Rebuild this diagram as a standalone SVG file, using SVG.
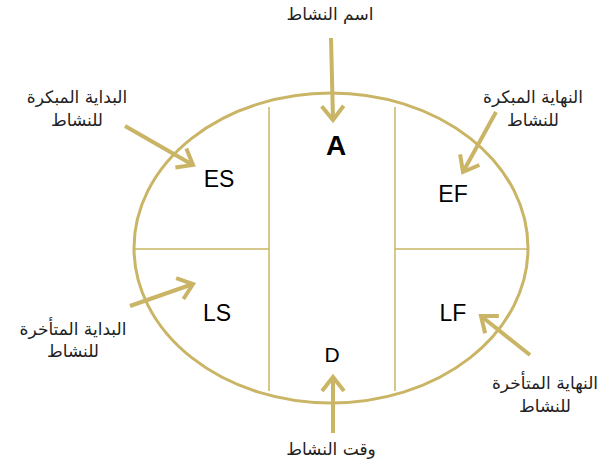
<svg xmlns="http://www.w3.org/2000/svg" width="616" height="468" viewBox="0 0 616 468">
<style>
.sh{fill:none;stroke:#c9b565;}
.ar{fill:none;stroke:#c9b565;stroke-width:4;marker-end:url(#h);}
.lt{font-family:"Liberation Sans",Arial,sans-serif;font-size:23px;fill:#000;text-anchor:middle;}
.big{font-size:28px;font-weight:bold;}
.ab{font-family:"DejaVu Sans","Noto Sans",sans-serif;font-size:17px;fill:#222;text-anchor:middle;direction:rtl;}
</style>
<defs>
<marker id="h" markerUnits="userSpaceOnUse" markerWidth="34" markerHeight="34" refX="16" refY="12" orient="auto" viewBox="0 0 34 24">
<path d="M2,1 L16,12 L2,23" fill="none" stroke="#c9b565" stroke-width="4"/>
</marker>
</defs>
<rect width="616" height="468" fill="#fff"/>
<g id="activity">
<ellipse class="sh" cx="331" cy="248" rx="197" ry="155" stroke-width="3"/>
<line class="sh" x1="269" y1="107" x2="269" y2="391" stroke-width="1.5"/>
<line class="sh" x1="395" y1="107" x2="395" y2="391" stroke-width="1.5"/>
<line class="sh" x1="134" y1="249" x2="269" y2="249" stroke-width="1.5"/>
<line class="sh" x1="395" y1="249" x2="528" y2="249" stroke-width="1.5"/>
</g>
<g id="A"><text class="lt big" x="336" y="155">A</text></g>
<g id="ES"><text class="lt" x="219" y="187">ES</text></g>
<g id="EF"><text class="lt" x="453" y="202">EF</text></g>
<g id="LS"><text class="lt" x="217" y="321">LS</text></g>
<g id="LF"><text class="lt" x="453" y="321">LF</text></g>
<g id="D"><text class="lt" x="332" y="362" style="font-size:21px">D</text></g>
<g id="labels">
<text class="ab" x="330" y="20">اسم النشاط</text>
<text class="ab" x="77" y="103">البداية المبكرة</text>
<text class="ab" x="77" y="126">للنشاط</text>
<text class="ab" x="533" y="103">النهاية المبكرة</text>
<text class="ab" x="533" y="126">للنشاط</text>
<text class="ab" x="73" y="335">البداية المتأخرة</text>
<text class="ab" x="73" y="357">للنشاط</text>
<text class="ab" x="545" y="389">النهاية المتأخرة</text>
<text class="ab" x="545" y="412">للنشاط</text>
<text class="ab" x="331" y="455">وقت النشاط</text>
</g>
<g id="connectors">
<line class="ar" x1="331" y1="38" x2="333" y2="120"/>
<line class="ar" x1="125" y1="126" x2="193" y2="165"/>
<line class="ar" x1="496" y1="112" x2="463" y2="172"/>
<line class="ar" x1="130" y1="306" x2="193" y2="284"/>
<line class="ar" x1="530" y1="355" x2="481" y2="316"/>
<line class="ar" x1="333" y1="433" x2="333" y2="377"/>
</g>
</svg>
